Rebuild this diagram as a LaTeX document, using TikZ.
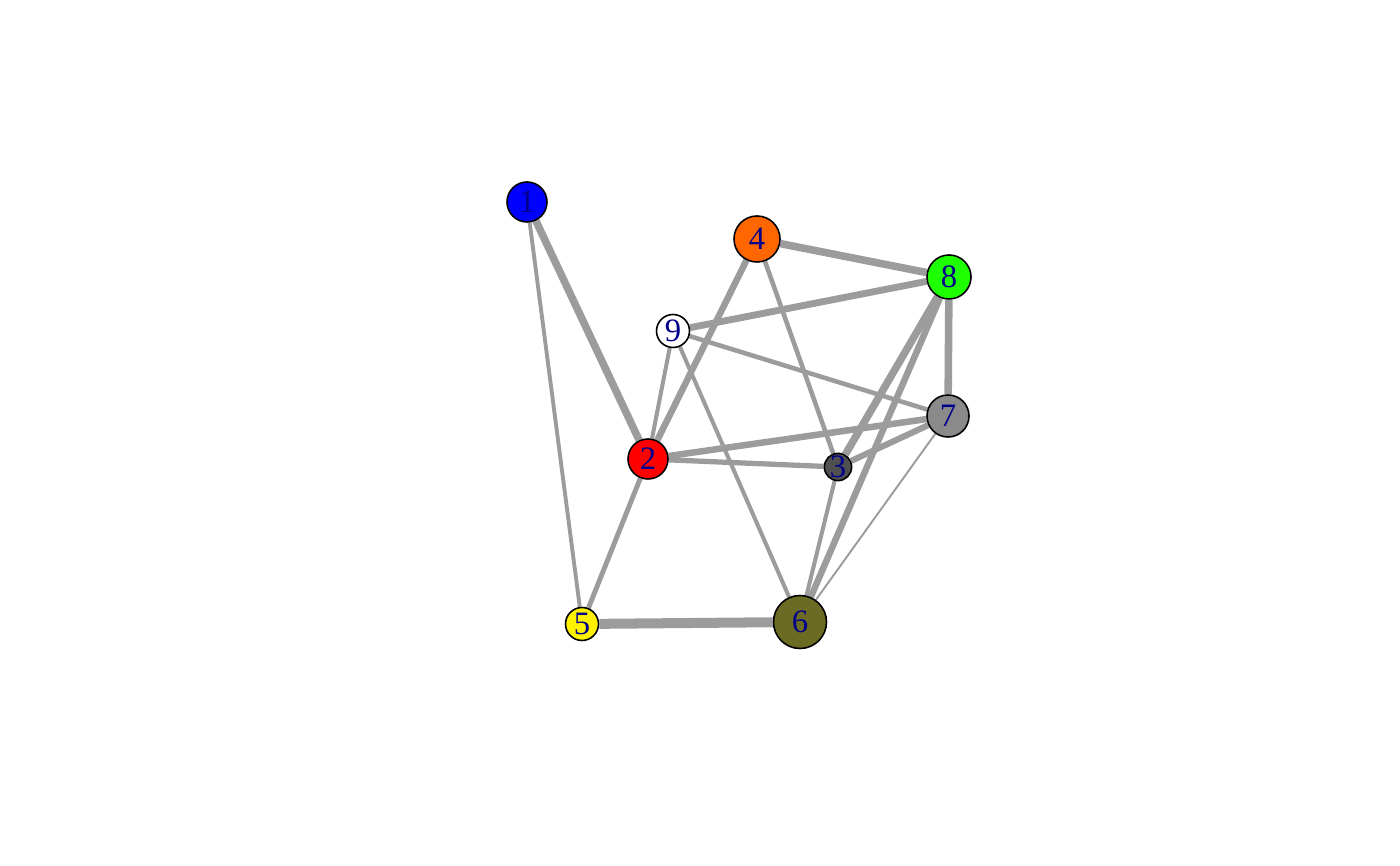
\documentclass[tikz,border=0pt]{standalone}
\usepackage{fontspec}
\setmainfont{Liberation Serif}
\usepackage{tikz, color}
\usetikzlibrary{positioning, backgrounds}
\definecolor{edgegray}{RGB}{156,156,156}
\definecolor{labelblue}{RGB}{0,0,139}
\definecolor{vorange}{RGB}{255,102,0}
\definecolor{volive}{RGB}{107,107,35}
\definecolor{vdark}{RGB}{80,80,80}
\definecolor{vgray}{RGB}{138,138,138}
\definecolor{vgreen}{RGB}{30,255,0}
\tikzset{
  network/.style={
	-, % undirected edges
	every edge/.style={draw=edgegray}, % grey edges
	every node/.style={font=\fontsize{9.3}{10}\selectfont, text=labelblue}, % labels of the vertices
  },
  vertex/.style={circle, draw=black, line width=0.45pt, inner sep=0pt}, % properties of each vertex
}

\begin{document}
\begin{tikzpicture}[network]
	  \useasboundingbox (0,0) rectangle (14,8.66);
	  \node[vertex, fill=blue, minimum size=0.40cm] at (5.27,6.64) (v1) {1};
	  \node[vertex, fill=red, minimum size=0.40cm] at (6.48,4.07) (v2) {2};
	  \node[vertex, fill=vdark, minimum size=0.23cm] at (8.38,3.99) (v3) {3};
	  \node[vertex, fill=vorange, minimum size=0.46cm] at (7.57,6.27) (v4) {4};
	  \node[vertex, fill=yellow, minimum size=0.33cm] at (5.82,2.42) (v5) {5};
	  \node[vertex, fill=volive, minimum size=0.53cm] at (8.00,2.44) (v6) {6};
	  \node[vertex, fill=vgray, minimum size=0.42cm] at (9.48,4.50) (v7) {7};
	  \node[vertex, fill=vgreen, minimum size=0.44cm] at (9.49,5.89) (v8) {8};
	  \node[vertex, fill=white, minimum size=0.33cm] at (6.73,5.35) (v9) {9};
	  \begin{scope}[on background layer]
	  \draw   (v1) edge[line width=2.15pt] (v2)
		  (v1) edge[line width=1.1pt] (v5)
		  (v4) edge[line width=2.15pt] (v8)
		  (v4) edge[line width=1.85pt] (v2)
		  (v4) edge[line width=1.3pt] (v3)
		  (v9) edge[line width=1.95pt] (v8)
		  (v9) edge[line width=1.3pt] (v7)
		  (v9) edge[line width=1.15pt] (v2)
		  (v9) edge[line width=1.15pt] (v6)
		  (v2) edge[line width=1.85pt] (v7)
		  (v2) edge[line width=1.5pt] (v3)
		  (v2) edge[line width=1.4pt] (v5)
		  (v8) edge[line width=2.15pt] (v7)
		  (v8) edge[line width=2.15pt] (v3)
		  (v8) edge[line width=1.85pt] (v6)
		  (v7) edge[line width=1.75pt] (v3)
		  (v7) edge[line width=0.55pt] (v6)
		  (v3) edge[line width=1.15pt] (v6)
		  (v5) edge[line width=2.85pt] (v6)
	  ;
	  \end{scope}
	  \end{tikzpicture}
\end{document}
